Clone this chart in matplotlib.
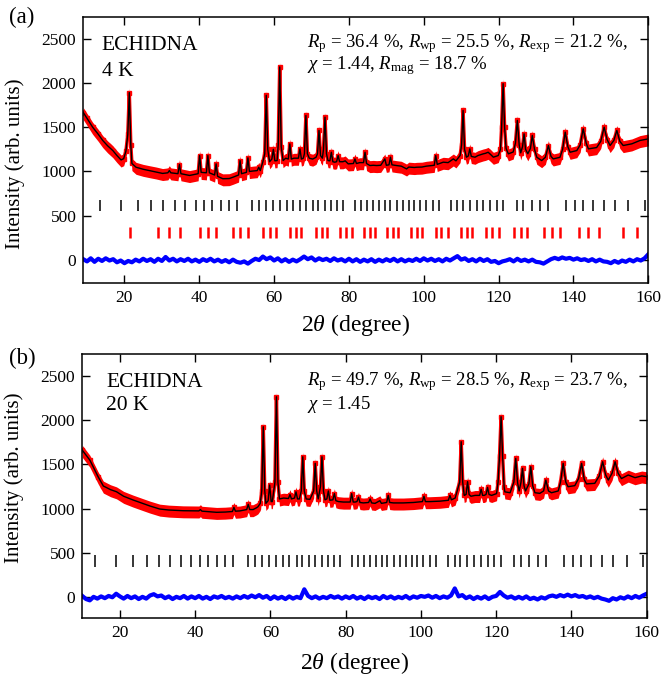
import matplotlib
matplotlib.use("Agg")
import matplotlib.pyplot as plt
import numpy as np

plt.rcParams['font.family'] = ['Liberation Serif', 'DejaVu Serif']
plt.rcParams['mathtext.fontset'] = 'custom'
plt.rcParams['mathtext.rm'] = 'Liberation Serif'
plt.rcParams['mathtext.it'] = 'Liberation Serif:italic'
plt.rcParams['mathtext.bf'] = 'Liberation Serif:bold'

# ---------------- panel (a): 4 K ----------------
tth_a = [9.0, 10.0, 11.5, 13.0, 14.2, 15.5, 16.9, 18.0, 19.1, 19.8, 20.4, 20.9, 21.3, 21.7, 22.0,
         23.1, 25.0, 26.7, 28.5, 30.2, 31.6, 32.0, 32.4, 34.3, 34.7, 35.1, 37.4, 39.7, 40.1, 40.5,
         41.9, 42.3, 42.7, 44.1, 44.5, 44.9, 46.3, 48.0, 49.0, 50.5, 50.9, 51.3, 52.6, 53.0, 53.4,
         54.3, 55.5, 55.9, 56.3, 57.0, 57.5, 57.9, 58.3, 58.8, 59.4, 59.8, 60.2, 60.8, 61.1, 61.5,
         61.9, 62.4, 63.1, 63.8, 64.2, 64.6, 65.3, 66.5, 66.9, 67.3, 67.8, 68.1, 68.5, 68.9, 69.4,
         70.3, 71.2, 71.6, 72.0, 72.4, 72.9, 73.2, 73.6, 74.0, 74.4, 74.9, 75.3, 75.7, 76.2, 76.7,
         77.1, 77.5, 78.4, 79.0, 79.8, 81.2, 81.6, 82.0, 82.9, 83.9, 84.3, 84.7, 85.6, 86.5, 87.4,
         88.5, 89.6, 90.0, 90.7, 91.1, 91.5, 92.7, 94.0, 95.4, 96.0, 97.5, 98.1, 99.5, 100.7, 102.8,
         103.2, 103.6, 105.2, 106.5, 107.9, 108.6, 109.7, 110.1, 110.5, 110.9, 111.4, 111.9, 112.3, 112.7, 113.7,
         114.5, 115.9, 116.5, 117.2, 117.9, 118.6, 119.9, 120.5, 120.8, 121.2, 121.6, 122.0, 122.6, 123.9, 124.5,
         125.0, 125.5, 125.9, 126.4, 126.8, 127.2, 127.8, 128.5, 129.0, 129.6, 130.2, 131.5, 132.5, 133.3, 134.0,
         134.6, 136.4, 137.1, 137.8, 138.5, 139.1, 140.9, 141.8, 142.6, 143.4, 144.0, 146.2, 147.3, 148.2, 149.0,
         149.8, 150.8, 151.6, 152.4, 153.3, 155.6, 157.8, 160.0]
int_a = [1665, 1600, 1500, 1420, 1350, 1290, 1236, 1180, 1130, 1145, 1230, 1420, 1890, 1300, 1090,
         1048, 1025, 1010, 995, 978, 985, 1010, 985, 975, 1078, 975, 955, 975, 1180, 990,
         985, 1180, 985, 960, 1086, 945, 918, 920, 935, 960, 1123, 975, 990, 1154, 1000,
         1005, 1010, 1048, 1010, 1110, 1200, 1860, 1250, 1110, 1140, 1250, 1120, 1123, 1300, 2180,
         1280, 1123, 1150, 1140, 1312, 1140, 1150, 1150, 1255, 1140, 1150, 1200, 1632, 1200, 1150,
         1140, 1160, 1200, 1463, 1180, 1150, 1250, 1613, 1200, 1123, 1120, 1217, 1110, 1105, 1110,
         1180, 1110, 1110, 1120, 1086, 1090, 1142, 1090, 1100, 1100, 1217, 1090, 1067, 1070, 1067,
         1070, 1142, 1070, 1075, 1161, 1075, 1067, 1060, 1029, 1050, 1045, 1048, 1050, 1060, 1070,
         1180, 1080, 1105, 1100, 1142, 1120, 1180, 1300, 1689, 1250, 1161, 1175, 1255, 1170, 1161,
         1180, 1199, 1205, 1217, 1190, 1161, 1180, 1250, 1500, 1991, 1500, 1260, 1199, 1220, 1320,
         1576, 1300, 1210, 1280, 1425, 1250, 1200, 1260, 1406, 1250, 1161, 1123, 1160, 1293, 1170,
         1142, 1160, 1250, 1444, 1280, 1217, 1236, 1300, 1482, 1320, 1255, 1270, 1340, 1500, 1360,
         1293, 1350, 1463, 1340, 1293, 1312, 1350, 1368]

diff_x_a = list(range(9, 161))
diff_a = [10, -15, 20, -20, 15, -10, 20, -5, 10, -25, -5, -35, -10, -25, 5, -15, 15, -10, 10, -20,
          15, -10, 35, -5, 15, -15, 10, -10, 15, -15, 5, -20, 10, -10, 15, -15, 5, -20, 0, -25,
          5, -20, -30, -15, -40, -10, 15, 0, 40, 10, 30, -5, 20, -15, 10, -20, 5, -15, 10, 40,
          10, 30, -5, 20, 0, 15, -10, 20, -5, 10, -15, 15, -15, 10, -20, 5, -15, 10, -20, 5,
          -15, 10, -10, 15, -15, 10, -15, 5, -10, 15, -10, 20, -5, 15, -10, 10, -15, 15, -5, 20,
          45, 5, 20, -10, 10, -15, 15, -10, 10, -20, -10, -35, -15, -5, 10, -15, 15, -10, 5, -15,
          5, -20, -25, -40, -15, 10, 25, 10, 30, 15, 25, 5, 20, 0, 10, -10, 10, -15, 5, -15,
          -20, -35, -10, -30, -5, -20, 5, -15, 10, -5, 20, 65]

nuc_ticks = [13.5, 19.0, 23.5, 27.2, 30.4, 33.4, 36.2, 39.0, 41.3, 43.5, 45.9, 48.0, 50.0, 54.1,
             56.0, 57.8, 59.6, 61.5, 63.4, 65.0, 67.0, 68.5, 70.3, 71.8, 73.6, 75.3, 76.8, 78.4,
             81.6, 83.3, 84.9, 86.5, 88.0, 89.6, 91.1, 92.9, 94.4, 96.0, 97.5, 99.0, 100.6, 102.4,
             104.0, 107.2, 109.0, 110.5, 112.3, 114.1, 115.9, 117.7, 119.5, 121.2, 124.8, 126.6,
             128.8, 131.1, 133.3, 138.0, 140.4, 142.6, 145.3, 148.2, 151.1, 154.7, 159.0]
mag_ticks = [21.4, 28.9, 31.8, 34.8, 40.1, 42.3, 44.4, 49.0, 50.8, 53.0, 57.0, 58.8, 60.6, 64.2,
             65.8, 67.2, 71.2, 72.8, 74.2, 77.6, 79.2, 80.8, 84.0, 85.5, 86.9, 90.1, 91.7, 93.2,
             96.7, 98.2, 99.6, 103.2, 104.7, 106.4, 109.9, 111.5, 113.0, 116.6, 118.3, 120.2,
             124.1, 126.0, 127.7, 132.0, 134.3, 136.4, 141.5, 143.9, 146.9, 153.2, 156.9]

# ---------------- panel (b): 20 K ----------------
tth_b = [10.0, 12.0, 14.2, 15.6, 17.5, 19.1, 21.0, 23.5, 26.0, 28.0, 30.6, 33.0, 36.8, 41.0, 41.4,
         41.8, 45.7, 48.0, 49.9, 50.3, 50.7, 51.9, 53.7, 54.1, 54.5, 55.4, 56.3, 56.7, 57.3, 57.7,
         58.1, 58.5, 58.8, 59.4, 59.8, 60.2, 60.5, 61.2, 61.6, 62.0, 62.4, 63.5, 64.8, 65.2, 65.6,
         66.4, 66.8, 67.2, 67.7, 68.2, 68.6, 69.0, 69.5, 70.5, 71.5, 71.9, 72.3, 72.7, 73.3, 73.7,
         74.1, 74.5, 75.0, 75.4, 75.8, 76.6, 77.0, 77.4, 78.1, 79.4, 81.2, 81.6, 82.0, 82.5, 83.0,
         83.4, 83.8, 84.7, 86.1, 86.5, 86.9, 87.8, 89.1, 89.5, 90.9, 91.3, 91.7, 92.7, 95.3, 98.0,
         100.4, 100.8, 101.2, 102.4, 105.1, 107.3, 107.7, 108.1, 109.1, 110.3, 110.7, 111.1, 111.5, 112.0, 112.4,
         112.8, 113.3, 114.4, 115.6, 116.0, 116.4, 116.8, 117.3, 117.7, 118.1, 118.8, 120.1, 120.5, 120.9, 121.3,
         121.7, 122.1, 122.3, 123.7, 124.7, 125.2, 125.7, 126.1, 126.6, 127.0, 127.4, 127.8, 128.7, 129.2, 129.7,
         130.3, 131.6, 132.6, 133.2, 133.9, 134.7, 136.5, 137.1, 137.8, 138.5, 139.1, 140.9, 141.9, 142.7, 143.4,
         144.0, 146.2, 147.4, 148.3, 149.1, 149.8, 150.8, 151.6, 152.4, 153.3, 155.1, 156.9, 158.7, 160.0]
int_b = [1660, 1549, 1361, 1256, 1215, 1191, 1140, 1098, 1060, 1030, 996, 985, 977, 975, 990,
         972, 959, 962, 968, 1015, 972, 975, 990, 1049, 990, 990, 1010, 1022, 1060, 1200,
         1925, 1200, 1060, 1090, 1267, 1080, 1080, 1300, 2263, 1300, 1110, 1120, 1115, 1160, 1110,
         1120, 1190, 1110, 1110, 1200, 1586, 1200, 1110, 1105, 1200, 1512, 1200, 1110, 1250, 1586,
         1200, 1100, 1110, 1200, 1095, 1100, 1170, 1090, 1080, 1075, 1075, 1170, 1075, 1075, 1080,
         1130, 1070, 1065, 1070, 1110, 1065, 1060, 1090, 1060, 1070, 1150, 1070, 1065, 1065, 1070,
         1080, 1140, 1080, 1080, 1085, 1095, 1150, 1100, 1120, 1300, 1756, 1300, 1150, 1160, 1305,
         1160, 1140, 1150, 1150, 1220, 1150, 1150, 1160, 1240, 1160, 1150, 1170, 1300, 1600, 2038,
         1600, 1250, 1190, 1180, 1300, 1568, 1290, 1200, 1300, 1455, 1260, 1200, 1280, 1474, 1260,
         1180, 1173, 1200, 1323, 1200, 1180, 1200, 1300, 1512, 1300, 1248, 1260, 1340, 1512, 1330,
         1280, 1286, 1370, 1530, 1380, 1323, 1400, 1530, 1400, 1340, 1380, 1350, 1370, 1361]

diff_x_b = list(range(10, 161))
diff_b = [15, -20, -35, 5, -15, 10, -10, 15, 0, 40, 10, -15, 15, -10, 10, -20, 5, -15, 20, 35,
          10, 20, -10, 10, -20, 5, -10, 15, -15, 10, -10, 15, -15, 5, -20, 10, -5, 15, -10, 5,
          -15, 10, -10, 15, -5, 20, 0, 25, -5, 15, -20, 10, -15, 5, -20, 10, -15, 5, -10, 90,
          15, -10, 10, -15, 5, -10, 15, -5, 10, -15, 10, -10, 15, -15, 5, -20, 10, -10, 5, -20,
          15, -10, 10, -15, 5, -10, 15, -15, 10, -5, 15, 5, 20, -5, 15, -10, 10, -5, 20, 100,
          10, 25, -10, 10, -20, 5, -15, 10, -20, 5, 15, 60, 20, -5, 10, -15, 5, -15, 10, -20,
          -5, -25, 0, -15, 10, 20, 5, 25, 10, 30, 10, 25, 5, 15, -5, 10, -10, 5, -15, -25,
          -40, -10, -25, 0, -15, 10, -10, 15, -5, 20, 40]

# styling constants
BAND_LO, BAND_HI = 80, 55   # thickness of the red observed-data band (drawing style)
FS_TICK = 12.5
FS_YLABEL = 15
FS_XLABEL = 17
FS_NAME = 15.5
FS_R = 13.5

fig = plt.figure(figsize=(6.63, 6.81), dpi=100)
ax_a = fig.add_axes([0.1256, 0.584, 0.8522, 0.3906])
ax_b = fig.add_axes([0.1241, 0.0921, 0.8513, 0.3881])


def draw(ax, tth, inten, dx, dy, xlim, ylim, mag):
    tth = np.asarray(tth, float)
    inten = np.asarray(inten, float)
    ax.fill_between(tth, inten - BAND_LO, inten + BAND_HI, color='#ff0000', lw=0, zorder=2)
    ax.plot(tth, inten, color='#ff0000', lw=2.5, zorder=2)
    ax.plot(tth, inten, ls='none', marker='s', ms=3, color='#ff0000', zorder=2)
    ax.plot(tth, inten, color='black', lw=1.0, zorder=3)
    ax.plot(dx, dy, color='#0000ff', lw=3.0, zorder=2)
    if mag:
        ax.vlines(nuc_ticks, 555, 680, color='black', lw=1.1, zorder=2)
        ax.vlines(mag_ticks, 250, 375, color='#ff0000', lw=1.8, zorder=2)
    else:
        ax.vlines(nuc_ticks, 345, 480, color='black', lw=1.1, zorder=2)
    ax.set_xlim(*xlim)
    ax.set_ylim(*ylim)
    ax.set_xticks([20, 40, 60, 80, 100, 120, 140, 160])
    ax.set_yticks([0, 500, 1000, 1500, 2000, 2500])
    ax.tick_params(direction='in', top=True, right=True, length=6, width=1.0,
                   labelsize=FS_TICK, pad=5)
    for s in ax.spines.values():
        s.set_linewidth(1.1)
    ax.set_xlabel(r'2$\theta$ (degree)', fontsize=FS_XLABEL)
    ax.set_ylabel('Intensity (arb. units)', fontsize=FS_YLABEL)


draw(ax_a, tth_a, int_a, diff_x_a, diff_a, (9, 160), (-262, 2740), True)
draw(ax_b, tth_b, int_b, diff_x_b, diff_b, (10, 160), (-237, 2746), False)

ax_a.xaxis.set_label_coords(0.482, -0.108)
ax_b.xaxis.set_label_coords(0.482, -0.12)
ax_a.yaxis.set_label_coords(-0.103, 0.4485)
ax_b.yaxis.set_label_coords(-0.103, 0.533)

ax_a.text(0.033, 0.877, 'ECHIDNA', transform=ax_a.transAxes, fontsize=FS_NAME, va='baseline')
ax_a.text(0.033, 0.779, '4 K', transform=ax_a.transAxes, fontsize=FS_NAME, va='baseline')
ax_a.text(0.396, 0.886, r'$R_{\rm p}$ = 36.4 %, $R_{\rm wp}$ = 25.5 %, $R_{\rm exp}$ = 21.2 %,',
          transform=ax_a.transAxes, fontsize=FS_R, va='baseline')
ax_a.text(0.396, 0.803, r'$\chi$ = 1.44, $R_{\rm mag}$ = 18.7 %',
          transform=ax_a.transAxes, fontsize=FS_R, va='baseline')

ax_b.text(0.042, 0.876, 'ECHIDNA', transform=ax_b.transAxes, fontsize=FS_NAME, va='baseline')
ax_b.text(0.042, 0.788, '20 K', transform=ax_b.transAxes, fontsize=FS_NAME, va='baseline')
ax_b.text(0.398, 0.880, r'$R_{\rm p}$ = 49.7 %, $R_{\rm wp}$ = 28.5 %, $R_{\rm exp}$ = 23.7 %,',
          transform=ax_b.transAxes, fontsize=FS_R, va='baseline')
ax_b.text(0.398, 0.793, r'$\chi$ = 1.45',
          transform=ax_b.transAxes, fontsize=FS_R, va='baseline')

fig.text(0.0136, 0.966, '(a)', fontsize=16.5, va='baseline')
fig.text(0.0136, 0.4655, '(b)', fontsize=16.5, va='baseline')

fig.savefig('out.png', dpi=100)
